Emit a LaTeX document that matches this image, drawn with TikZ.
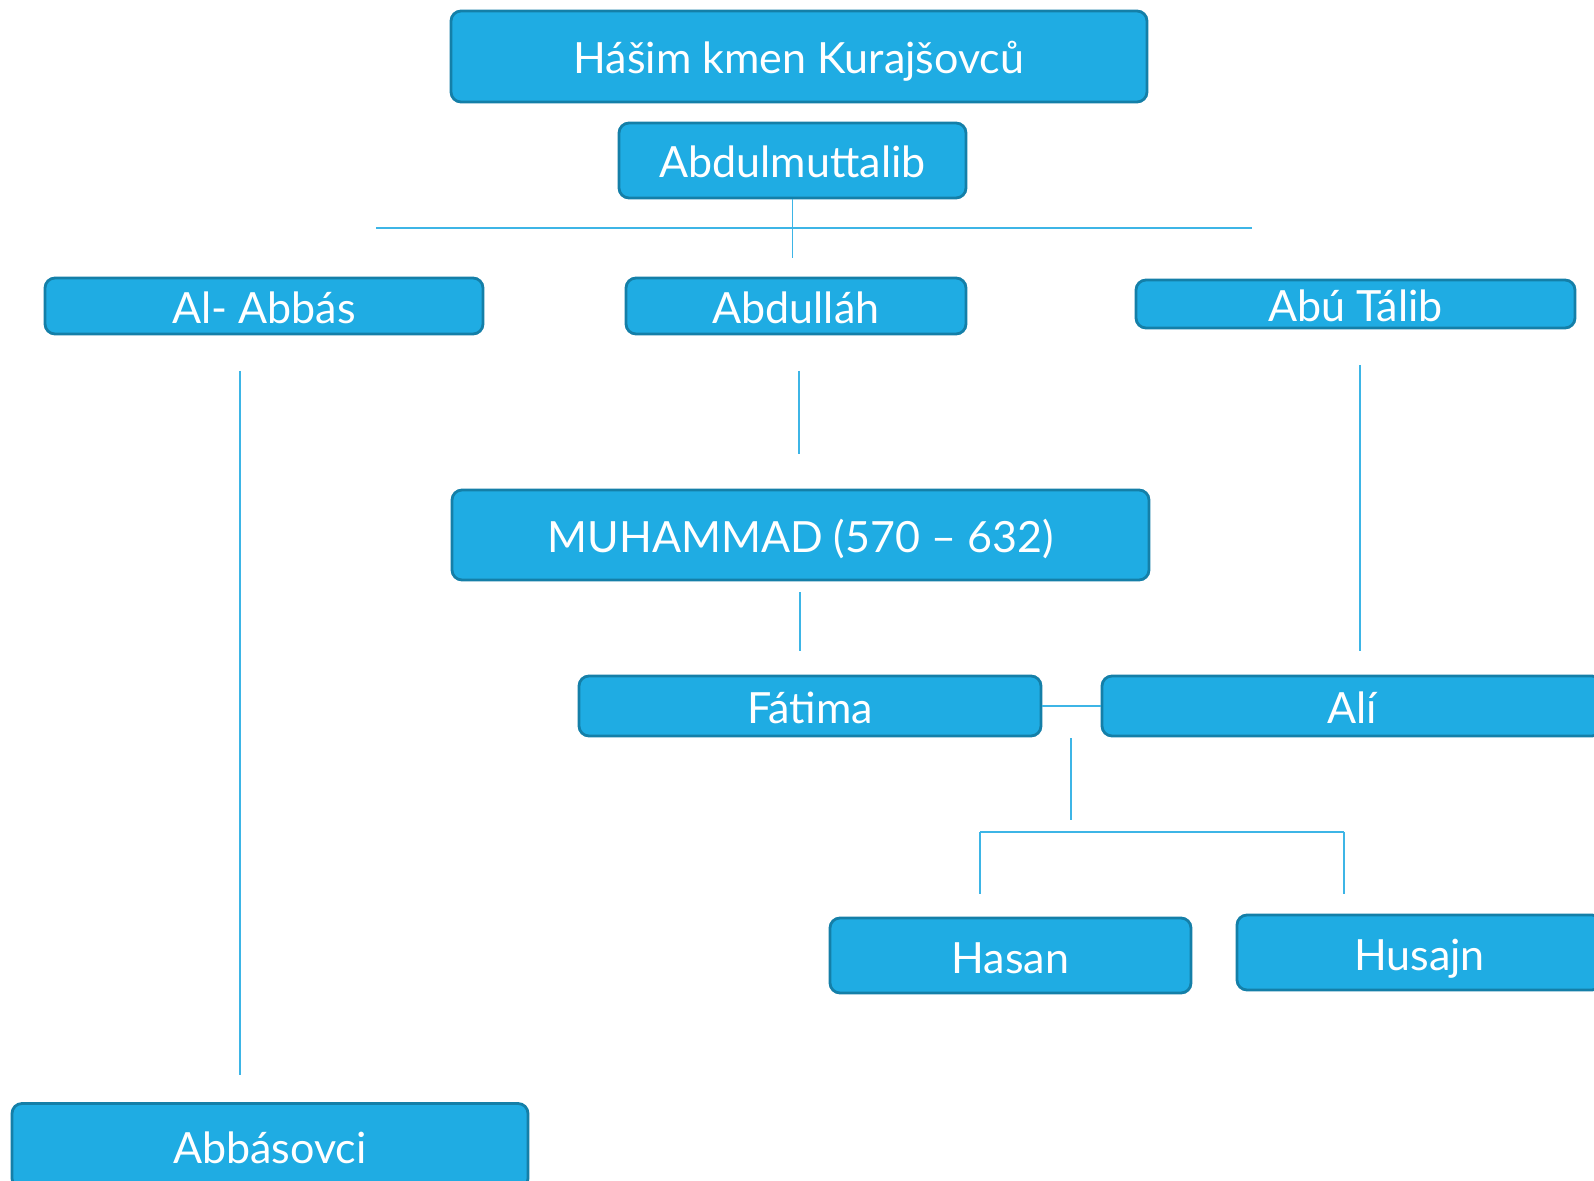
\documentclass[tikz,border=0pt]{standalone}
\usepackage{fontspec}
\setmainfont{Lato}
\definecolor{boxfill}{HTML}{1FACE3}
\definecolor{boxdraw}{HTML}{147FA8}
\definecolor{linec}{HTML}{3DB5E6}
\begin{document}
\begin{tikzpicture}[x=0.5pt,y=-0.5pt,
  box/.style={draw=boxdraw,fill=boxfill,line width=1.4pt,rounded corners=5pt,
    text=white,font=\fontsize{21.5}{24}\selectfont,inner sep=0pt,anchor=center,
    text height=17.5pt,text depth=0pt},
  conn/.style={draw=linec,line width=0.9pt}]
\clip (0,0) rectangle (1594,1181);
\fill[white] (0,0) rectangle (1594,1181);
\node[box,minimum width=348pt,minimum height=45.5pt] (hashim) at (799,56.5) {Hášim kmen Kurajšovců};
\node[box,minimum width=173.5pt,minimum height=37.5pt] (abdulm) at (792.5,160.5) {Abdulmuttalib};
\node[box,minimum width=219pt,minimum height=28pt] (abbas) at (264,306) {Al- Abbás};
\node[box,minimum width=170pt,minimum height=28pt] (abdullah) at (796,306) {Abdulláh};
\node[box,minimum width=219.5pt,minimum height=24pt] (abutalib) at (1355.5,304) {Abú Tálib};
\node[box,minimum width=348.5pt,minimum height=45pt] (muhammad) at (800.5,535) {MUHAMMAD (570 – 632)};
\node[box,minimum width=231pt,minimum height=30pt] (fatima) at (810,706) {Fátima};
\node[box,minimum width=250pt,minimum height=30pt] (ali) at (1352,706) {Alí};
\node[box,minimum width=180.5pt,minimum height=37.5pt] (hasan) at (1010.5,955.5) {Hasan};
\node[box,minimum width=182.5pt,minimum height=37.5pt] (husajn) at (1419.5,952.5) {Husajn};
\node[box,minimum width=258pt,minimum height=42.5pt] (abbasovci) at (270,1146) {Abbásovci};
% coordinates
\coordinate (m1) at (792.5,258);
\coordinate (hl) at (376,228);
\coordinate (hr) at (1252,228);
\coordinate (a1) at (240,371);
\coordinate (a2) at (240,1075);
\coordinate (d1) at (799,371);
\coordinate (d2) at (799,454);
\coordinate (t1) at (1360,365);
\coordinate (t2) at (1360,651);
\coordinate (u1) at (800,592);
\coordinate (u2) at (800,651);
\coordinate (f1) at (1071,738);
\coordinate (f2) at (1071,820);
\coordinate (hl2) at (980,832);
\coordinate (hr2) at (1344,832);
\coordinate (hd1) at (980,894);
\coordinate (hd2) at (1344,894);
% connectors
\draw[conn] (abdulm.south) -- (m1);
\draw[conn] (hl) -- (hr);
\draw[conn] (a1) -- (a2);
\draw[conn] (d1) -- (d2);
\draw[conn] (t1) -- (t2);
\draw[conn] (u1) -- (u2);
\draw[conn] (fatima.east) -- (ali.west);
\draw[conn] (f1) -- (f2);
\draw[conn] (hl2) -- (hr2);
\draw[conn] (hl2) -- (hd1);
\draw[conn] (hr2) -- (hd2);
\end{tikzpicture}
\end{document}
